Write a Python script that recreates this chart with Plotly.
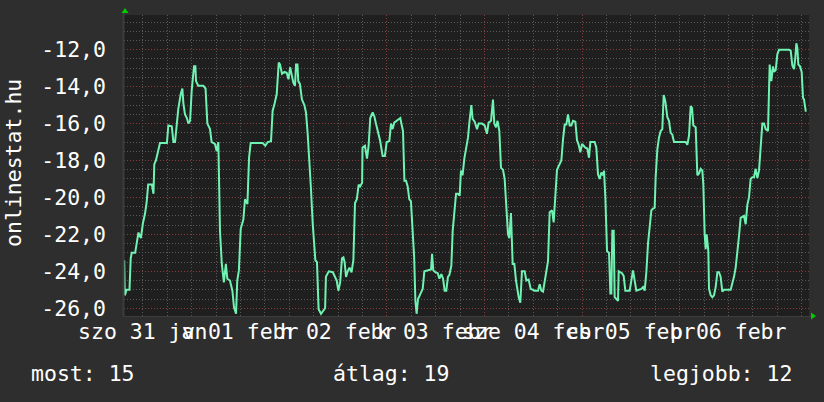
import pandas as pd
import plotly.graph_objects as go

# ---------------- data ----------------
base_time = "2015-02-01 00:00"          # hours below are measured from this instant
hours = [
    -16.6, -16.45, -16.0, -15.3, -15.0, -14.75, -13.9, -13.5, -13.1, -12.5, -12.0, -11.5, -11.1, -10.7,
    -9.8, -9.4, -9.2, -8.8, -8.2, -7.8, -6.1, -5.75, -4.9, -4.5, -4.1, -3.7, -3.3, -2.7, -2.3, -2.05,
    -1.65, -1.2, -0.8, -0.4, 0.0, 0.57, 0.9, 1.06, 1.6, 2.85, 3.4, 3.85, 4.5, 4.9, 5.7, 6.15, 6.55,
    6.95, 7.4, 7.9, 8.4, 8.75, 9.4, 10.0, 10.4, 10.9, 11.2, 11.6, 12.05, 12.7, 13.1, 13.7, 14.1, 14.5,
    17.45, 18.1, 18.7, 19.5, 19.9, 20.3, 20.9, 21.4, 21.7, 22.2, 22.8, 23.35, 23.8, 24.2, 24.6, 25.0,
    25.4, 25.65, 26.0, 26.2, 26.6, 27.1, 27.7, 28.1, 28.5, 28.9, 29.3, 29.75, 30.4, 30.8, 31.2, 31.8,
    32.4, 32.8, 33.0, 33.7, 34.7, 35.25, 35.65, 36.05, 36.5, 36.95, 37.3, 37.6, 37.95, 38.35, 38.8,
    39.3, 39.75, 40.15, 40.6, 41.05, 41.4, 41.9, 42.0, 42.6, 43.1, 43.5, 43.9, 44.5, 44.9, 45.3, 45.9,
    46.3, 46.95, 47.5, 47.95, 48.6, 49.0, 49.4, 49.8, 50.9, 51.3, 51.55, 51.95, 52.3, 52.7, 53.1, 53.5,
    53.9, 54.3, 54.7, 55.0, 55.3, 55.65, 56.2, 56.8, 57.2, 58.27, 58.85, 59.1, 59.4, 59.9, 60.5, 60.9,
    61.38, 61.8, 62.2, 62.6, 63.0, 63.35, 63.84, 64.17, 64.6, 65.0, 65.4, 65.89, 66.2, 66.6, 67.03,
    67.4, 67.94, 68.27, 68.76, 69.08, 69.58, 70.15, 70.56, 71.38, 72.03, 72.6, 73.0, 73.6, 74.08, 74.4,
    74.82, 75.2, 75.64, 76.05, 76.54, 76.95, 77.36, 77.77, 78.1, 78.5, 78.92, 79.33, 79.74, 80.15, 80.4,
    80.8, 81.2, 81.87, 82.28, 82.85, 83.35, 84.33, 85.15, 85.56, 85.97, 86.38, 86.79, 87.2, 87.61,
    88.02, 88.6, 89.0, 89.41, 89.82, 90.23, 90.89, 91.3, 91.71, 92.12, 92.53, 92.94, 93.35, 93.76,
    94.33, 94.74, 95.15, 95.56, 95.97, 96.38, 96.79, 97.28, 97.69, 98.02, 99.08, 99.49, 99.9, 100.31,
    100.72, 101.13, 101.38, 101.71, 102.12, 102.61, 102.94, 103.18, 103.43, 103.76, 104.0, 104.41,
    104.82, 104.99, 105.8, 106.21, 106.62, 107.69, 108.1, 108.51, 108.92, 109.33, 110.56, 110.97,
    111.38, 111.79, 112.2, 112.61, 113.02, 113.43, 113.84, 114.08, 114.49, 114.9, 115.31, 115.72,
    116.05, 116.46, 116.95, 117.36, 117.77, 118.18, 118.59, 121.46, 121.87, 122.28, 122.69, 123.02,
    123.34, 123.92, 124.33, 124.74, 125.15, 125.56, 125.8, 126.13, 126.38, 126.62, 127.03, 127.2,
    127.61, 128.02, 128.43, 128.84, 129.25, 129.66, 130.06, 130.47, 130.88, 132.52, 132.93, 133.34,
    133.75, 134.16, 134.57, 134.98, 135.8, 136.21, 136.62, 137.03, 137.44, 137.85, 138.26, 138.67,
    139.08, 139.49, 139.9, 140.31, 140.72, 141.13, 141.7, 142.11, 142.52, 142.93, 143.18, 143.59,
    144.0, 144.41, 146.87, 147.28, 147.69, 148.1, 148.43, 148.67, 148.92, 149.16, 149.57, 149.98,
    150.31, 150.56, 150.97, 151.21,
]
values = [
    -23.4, -25.3, -25.0, -25.0, -23.3, -23.0, -23.0, -22.4, -21.9, -22.2, -21.4, -20.9, -20.3, -19.3,
    -19.3, -19.8, -18.2, -18.0, -17.3, -17.05, -17.05, -16.1, -16.15, -17.0, -17.0, -16.0, -15.2, -14.4, -14.1, -14.9,
    -15.5, -15.7, -16.0, -15.85, -14.2, -12.9, -12.9, -13.7, -13.95, -13.95, -14.1, -16.0, -16.3, -17.0, -17.1, -17.5, -17.0,
    -21.8, -23.6, -24.6, -23.6, -24.4, -24.5, -25.05, -25.95, -26.3, -24.5, -23.95, -21.7, -21.2, -20.1, -20.35, -17.85, -17.05,
    -17.05, -17.2, -17.0, -16.95, -15.3, -15.0, -14.4, -12.7, -12.8, -13.3, -13.2, -13.25, -13.6, -12.95, -13.5, -13.8,
    -13.95, -12.8, -12.8, -13.7, -13.85, -14.7, -15.0, -15.4, -16.5, -18.4, -19.45, -21.4, -23.4, -23.5, -26.05, -26.3,
    -26.1, -26.0, -24.3, -24.0, -24.05, -24.3, -24.5, -25.05, -24.6, -23.3, -23.25, -23.5, -24.3, -24.0, -23.8,
    -24.05, -23.4, -20.3, -20.1, -19.3, -19.4, -19.2, -17.3, -17.2, -17.9, -17.2, -15.7, -15.4, -15.6, -16.0, -16.55,
    -16.9, -17.75, -17.75, -17.0, -16.95, -16.0, -16.3, -15.95, -15.75, -15.7, -16.0, -16.4, -19.1, -19.1, -19.4, -20.1,
    -20.2, -22.0, -23.25, -25.6, -26.3, -25.5, -25.2, -24.95, -24.0, -23.95, -23.9, -23.05, -23.95, -24.05, -24.1, -24.4,
    -24.15, -24.4, -25.05, -25.05, -24.3, -24.2, -23.7, -21.8, -20.55, -19.8, -19.8, -19.9, -18.55, -18.8, -17.9,
    -17.45, -16.75, -15.95, -15.0, -15.75, -15.9, -16.3, -16.0, -16.0, -16.1, -16.55, -15.95, -15.85, -14.7, -16.0,
    -16.2, -15.85, -16.4, -18.4, -18.5, -19.0, -20.7, -22.0, -22.2, -20.85, -23.6, -23.6, -24.5, -25.2, -25.4,
    -25.7, -24.0, -24.0, -24.5, -24.45, -24.95, -25.05, -25.05, -24.7, -25.05, -25.1, -24.5, -23.9, -23.45,
    -20.8, -20.7, -21.35, -19.85, -18.5, -18.3, -18.0, -16.85, -16.05, -16.05, -15.5, -16.1, -16.1, -15.85,
    -15.9, -16.9, -17.15, -17.55, -17.1, -17.2, -17.3, -17.35, -17.85, -17.0, -17.0, -17.3, -18.75, -19.0,
    -18.65, -18.8, -18.55, -20.0, -22.9, -23.0, -25.2, -25.2, -21.8, -21.8, -25.4, -25.5,
    -25.6, -24.0, -24.1, -24.25, -25.05, -25.05, -24.4, -23.95, -24.5, -25.05, -24.95, -24.85,
    -25.05, -24.05, -22.5, -21.45, -20.7, -20.6, -20.55, -18.9, -17.4, -16.75, -16.4, -16.3,
    -14.45, -14.8, -15.65, -15.85, -16.5, -16.6, -17.0, -17.0, -17.15, -16.65, -15.05, -15.15,
    -16.1, -16.2, -18.8, -18.7, -18.45, -18.55, -19.3, -22.0, -22.8, -22.0, -22.9, -24.95,
    -25.3, -25.4, -25.3, -24.85, -24.05, -24.05, -24.3, -25.1, -25.0, -25.0, -24.7, -24.3,
    -23.8, -23.05, -22.1, -21.1, -21.0, -21.45, -20.4, -20.0, -19.0, -18.9, -18.9, -18.45,
    -18.95, -18.55, -17.5, -16.0, -16.0, -16.3, -16.4, -12.8, -13.7, -12.9, -13.2, -13.1,
    -12.25, -12.0, -12.0, -12.05, -12.85, -13.05, -12.4, -11.65, -11.9, -12.8, -12.9, -13.2,
    -14.6, -14.7, -15.3, -15.3,
]

day_labels = ["szo 31 jan", "v 01 febr", "h 02 febr", "k 03 febr", "sze 04 febr", "cs 05 febr", "p 06 febr"]
label_days = ["2015-01-31", "2015-02-01", "2015-02-02", "2015-02-03", "2015-02-04", "2015-02-05", "2015-02-06"]

ytick_vals = [-26, -24, -22, -20, -18, -16, -14, -12]
ytick_text = ["-26,0", "-24,0", "-22,0", "-20,0", "-18,0", "-16,0", "-14,0", "-12,0"]

legend_names = ["most", "átlag", "legjobb"]
legend_values = [15, 19, 12]
y_title = "onlinestat.hu"

x_range = ["2015-01-31 07:21", "2015-02-07 07:47"]
y_range = [-26.42, -10.12]

# ---------------- figure ----------------
W, H = 824, 402
PL, PR, PT, PB = 124, 809, 15, 316          # plot box in window pixels
L, T = PL, PT
R, B = W - PR, H - PB
PW, PH = PR - PL, PB - PT

def px(x):
    return (x - PL) / PW

def py(y):
    return (PB - y) / PH

BG = "#2e2e2e"
FONT = "DejaVu Sans Mono"
TXT = "#ffffff"
LINE = "#6ff2b2"
MINOR = "#5a5a5a"
MAJOR = "#863c3c"
DOT = "1px,2px"
FS = 21.5

t0 = pd.Timestamp(base_time)
times = [t0 + pd.Timedelta(hours=h) for h in hours]

fig = go.Figure()
fig.add_trace(go.Scatter(x=times, y=values, mode="lines",
                         line=dict(color=LINE, width=2), hoverinfo="skip", showlegend=False))

fig.update_layout(
    width=W, height=H,
    margin=dict(l=L, r=R, t=T, b=B, pad=0),
    paper_bgcolor=BG,
    plot_bgcolor="#1f1f1f",
    showlegend=False,
    font=dict(family=FONT, color=TXT, size=FS),
)

fig.update_xaxes(
    type="date", range=x_range,
    tick0="2015-02-01", dtick=86400000,
    showgrid=True, gridcolor=MAJOR, griddash=DOT, gridwidth=1,
    showticklabels=False, ticks="", zeroline=False, showline=False,
    minor=dict(tick0="2015-02-01", dtick=21600000, showgrid=True,
               gridcolor=MINOR, griddash=DOT, gridwidth=1),
)
fig.update_yaxes(
    range=y_range,
    tickmode="array", tickvals=ytick_vals, ticktext=ytick_text,
    showgrid=True, gridcolor=MAJOR, griddash=DOT, gridwidth=1,
    ticks="", ticklabelstandoff=17, zeroline=False, showline=False,
    tickfont=dict(family=FONT, color=TXT, size=FS),
    minor=dict(tick0=0, dtick=0.5, showgrid=True, gridcolor=MINOR, griddash=DOT, gridwidth=1),
)

annotations = []
for d, lab in zip(label_days, day_labels):
    annotations.append(dict(
        x=pd.Timestamp(d) + pd.Timedelta(hours=12), xref="x",
        y=py(332), yref="paper", xanchor="center", yanchor="middle",
        text=lab, showarrow=False, font=dict(family=FONT, color=TXT, size=FS)))

legend_x = [29, 331, 648]
for xp, n, v in zip(legend_x, legend_names, legend_values):
    annotations.append(dict(
        x=px(xp), xref="paper", y=py(373), yref="paper",
        xanchor="left", yanchor="middle", text=f"{n}: {v}", showarrow=False,
        font=dict(family=FONT, color=TXT, size=FS)))

annotations.append(dict(
    x=px(13), xref="paper", y=py(163), yref="paper", xanchor="center", yanchor="middle",
    text=y_title, textangle=-90, showarrow=False,
    font=dict(family=FONT, color=TXT, size=FS)))

fig.update_layout(annotations=annotations)

shapes = [
    # axis lines
    dict(type="line", xref="paper", yref="paper", x0=px(123.5), x1=px(123.5), y0=py(13), y1=py(316),
         line=dict(color="#3c3c3c", width=2)),
    dict(type="line", xref="paper", yref="paper", x0=px(123), x1=px(811), y0=py(316.5), y1=py(316.5),
         line=dict(color="#3c3c3c", width=1)),
    # arrows
    dict(type="path", xref="paper", yref="paper",
         path=f"M {px(121.5)} {py(13)} L {px(128.5)} {py(13)} L {px(125)} {py(8)} Z",
         fillcolor="#00cc00", line=dict(width=0)),
    dict(type="path", xref="paper", yref="paper",
         path=f"M {px(811)} {py(312.5)} L {px(811)} {py(319.5)} L {px(816)} {py(316)} Z",
         fillcolor="#00cc00", line=dict(width=0)),
]
fig.update_layout(shapes=shapes)

# remove the page's default 8px body margin so the figure fills the window
page_css = ("document.body.style.margin='0';"
            "document.body.style.padding='0';"
            f"document.body.style.background='{BG}';"
            "document.body.style.overflow='hidden';")
fig.write_html("out.html", post_script=page_css,
               config={"displayModeBar": False, "staticPlot": True})
